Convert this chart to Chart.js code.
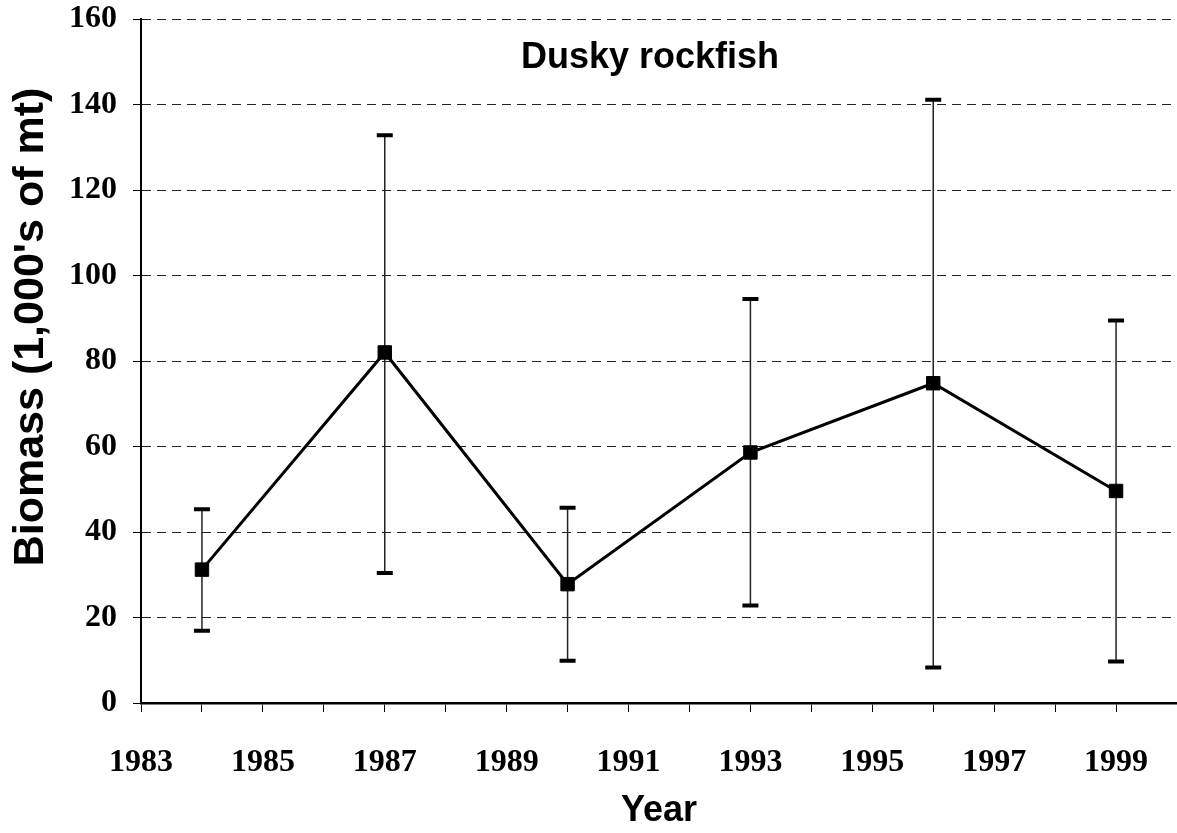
<!DOCTYPE html>
<html>
<head>
<meta charset="utf-8">
<script src="https://cdn.jsdelivr.net/npm/chart.js@4/dist/chart.umd.min.js"></script>
<style>
  html, body { margin: 0; padding: 0; background: #fff; overflow: hidden; }
  #wrap { position: relative; width: 1177px; height: 833px; }
</style>
</head>
<body>
<div id="wrap"><canvas id="grafico"></canvas></div>
<script>
// dados
const anos = [1984, 1987, 1990, 1993, 1996, 1999];
const biomassa = [31.2, 82.0, 27.8, 58.6, 74.8, 49.6];
const limiteInf = [16.9, 30.4, 9.9, 22.8, 8.3, 9.7];
const limiteSup = [45.3, 132.8, 45.7, 94.5, 141.1, 89.5];

const titulo = "Dusky rockfish";
const tituloX = "Year";
const tituloY = "Biomass (1,000's of mt)";

const fonteNum = { family: "'Liberation Serif', 'Times New Roman', serif", size: 32, weight: 'bold' };

// barras de erro desenhadas com as escalas do chart
const barrasErro = {
    id: 'barrasErro',
    beforeDatasetsDraw(chart){
        const {ctx, scales:{x, y}} = chart;
        ctx.save();
        anos.forEach((ano, i) => {
            const px = x.getPixelForValue(ano);
            const yTop = y.getPixelForValue(limiteSup[i]);
            const yBot = y.getPixelForValue(limiteInf[i]);
            ctx.strokeStyle = '#222';
            ctx.lineWidth = 1.5;
            ctx.beginPath();
            ctx.moveTo(px, yTop);
            ctx.lineTo(px, yBot);
            ctx.stroke();
            ctx.strokeStyle = '#000';
            ctx.lineWidth = 4;
            ctx.beginPath();
            ctx.moveTo(px - 8, yTop); ctx.lineTo(px + 8, yTop);
            ctx.moveTo(px - 8, yBot); ctx.lineTo(px + 8, yBot);
            ctx.stroke();
        });
        ctx.restore();
    }
};

// textos: titulo dentro do grafico e titulo do eixo Y
const textos = {
    id: 'textos',
    afterDraw(chart){
        const ctx = chart.ctx;
        ctx.save();
        ctx.fillStyle = '#000';
        ctx.font = "bold 36px 'Liberation Sans', Arial, sans-serif";
        ctx.textAlign = 'center';
        ctx.textBaseline = 'alphabetic';
        ctx.fillText(titulo, 650, 68);

        ctx.font = "bold 43px 'Liberation Sans', Arial, sans-serif";
        ctx.translate(43, 327);
        ctx.rotate(-Math.PI/2);
        ctx.fillText(tituloY, 0, 0);
        ctx.restore();
    }
};

const ctx = document.getElementById('grafico').getContext('2d');
new Chart(ctx, {
    type: 'line',
    data: {
        datasets: [{
            data: anos.map((a, i) => ({x: a, y: biomassa[i]})),
            borderColor: '#000',
            borderWidth: 3,
            pointStyle: 'rect',
            pointRadius: 9.5,
            pointBackgroundColor: '#000',
            pointBorderColor: '#000',
            pointBorderWidth: 1,
            tension: 0,
            fill: false,
            clip: false
        }]
    },
    options: {
        responsive: true,
        maintainAspectRatio: false,
        animation: false,
        layout: { autoPadding: false, padding: { top: 19, right: 0, left: 0, bottom: 0 } },
        plugins: { legend: { display: false }, tooltip: { enabled: false } },
        scales: {
            x: {
                type: 'linear',
                min: 1983, max: 2000,
                afterFit(s){ s.height = 130; s.paddingLeft = 0; s.paddingRight = 0; },
                ticks: {
                    stepSize: 1,
                    autoSkip: false,
                    maxRotation: 0,
                    padding: 32,
                    color: '#000',
                    font: fonteNum,
                    callback: v => (v % 2 === 1 && v < 2000) ? String(v) : ''
                },
                grid: { drawOnChartArea: false, drawTicks: true, tickLength: 9, color: '#000', lineWidth: 1 },
                border: { display: true, color: '#000', width: 2.5 },
                title: {
                    display: true,
                    text: tituloX,
                    color: '#000',
                    font: { family: "'Liberation Sans', Arial, sans-serif", size: 36, weight: 'bold' },
                    padding: { top: 0, bottom: 0 }
                }
            },
            y: {
                min: 0, max: 160,
                afterFit(s){ s.width = 141; s.paddingTop = 0; s.paddingBottom = 0; },
                ticks: {
                    stepSize: 20,
                    padding: 16,
                    color: '#000',
                    font: fonteNum
                },
                grid: { color: '#222', lineWidth: 1, tickLength: 8, tickColor: '#000', tickBorderDash: [] },
                border: { display: true, color: '#000', width: 2, dash: [9, 6] }
            }
        }
    },
    plugins: [barrasErro, textos]
});
</script>
</body>
</html>
